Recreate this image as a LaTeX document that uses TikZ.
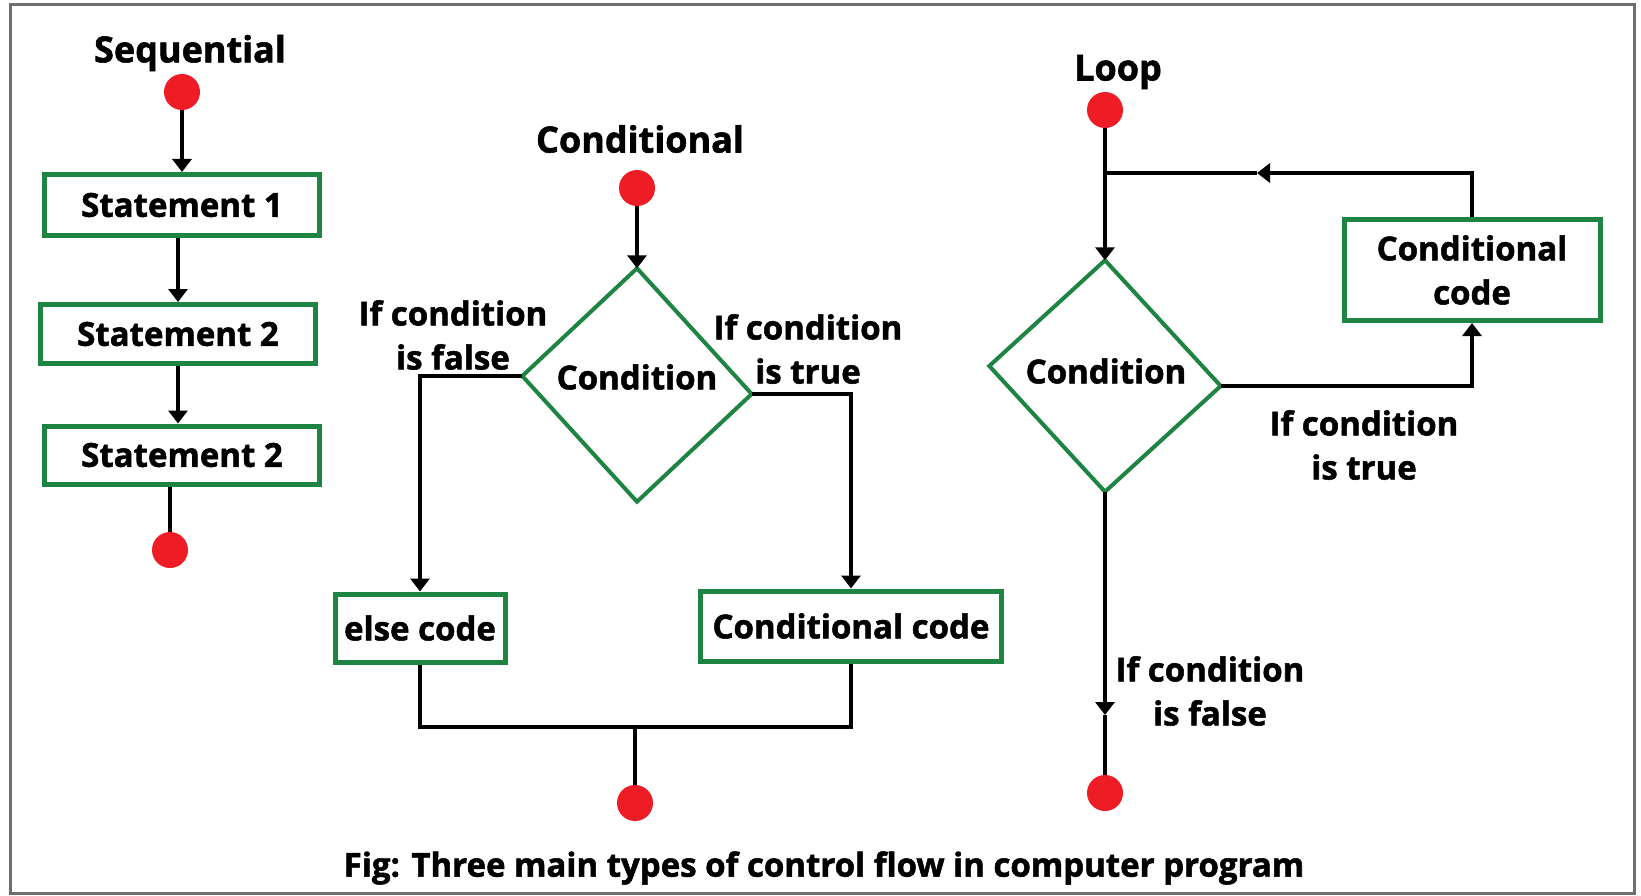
\documentclass[tikz,border=0pt]{standalone}
\usepackage{fontspec}
\setmainfont{Open Sans}[BoldFeatures={FakeBold=1.6}]
\usetikzlibrary{arrows.meta,shapes.geometric}
\definecolor{boxgreen}{RGB}{30,132,66}
\definecolor{dotred}{RGB}{238,28,36}
\definecolor{framegray}{RGB}{110,110,110}
\begin{document}
\begin{tikzpicture}[x=1pt,y=-1pt,
  every node/.style={font=\fontsize{33}{44}\selectfont\bfseries, align=center},
  box/.style={draw=boxgreen, line width=5pt, rectangle, inner sep=0pt},
  dia/.style={diamond, inner sep=2pt},
  diaedge/.style={draw=boxgreen, line width=4pt, line join=miter},
  dot/.style={circle, fill=dotred, minimum size=36pt, inner sep=0pt},
  lbl/.style={inner sep=0pt},
  head/.style={inner sep=0pt, font=\fontsize{36}{44}\selectfont\bfseries},
  line/.style={line width=4pt, black},
  arr/.style={line width=4pt, black, -{Triangle[width=19pt,length=13pt]}}
]
\useasboundingbox (0,0) rectangle (1641,896);
\fill[white] (0,0) rectangle (1641,896);
\draw[framegray, line width=3pt] (10,5) rectangle (1634,893);

% ---------- Sequential ----------
\node[head] (seqt) at (190,53) {Sequential};
\node[dot] (sd1) at (182,92) {};
\node[box, minimum width=275pt, minimum height=61pt] (s1) at (182,205) {Statement 1};
\node[box, minimum width=275pt, minimum height=59pt] (s2) at (178,334) {Statement 2};
\node[box, minimum width=275pt, minimum height=58pt] (s3) at (182,455) {Statement 2};
\node[dot] (sd2) at (170,550) {};
\draw[arr] (sd1) -- (s1.north);
\draw[arr] (s1.south -| s2.north) -- (s2.north);
\draw[arr] (s2.south) -- (s2.south |- s3.north);
\draw[line] (s3.south -| sd2) -- (sd2);

% ---------- Conditional ----------
\node[head] (condt) at (640,139) {Conditional};
\node[dot] (cd1) at (637,188) {};
\node[dia, minimum width=229pt, minimum height=233pt] (cd) at (637,385) {};
\node[lbl] (cdt) at (637,377) {Condition};
\coordinate (cdw) at ([yshift=9pt]cd.west);
\coordinate (cde) at ([yshift=-9pt]cd.east);
\draw[diaedge] (cd.north) -- (cde) -- (cd.south) -- (cdw) -- cycle;
\node[box, minimum width=170pt, minimum height=68pt] (ec) at (420,628) {else code};
\node[box, minimum width=301pt, minimum height=70pt] (cc) at (851,626) {Conditional code};
\node[dot] (cd2) at (635,803) {};
\coordinate (cm) at (635,727);
\node[lbl] (cfl) at (453,335) {If condition\\is false};
\node[lbl] (ctl) at (808,349) {If condition\\is true};
\draw[arr] (cd1) -- (cd.north);
\draw[arr] (cdw) -| (ec.north);
\draw[arr] (cde) -| (cc.north);
\draw[line] (ec.south) |- (cm) -| (cc.south);
\draw[line] (cm) -- (cd2);

% ---------- Loop ----------
\node[head] (loopt) at (1118,72) {Loop};
\node[dot] (ld1) at (1105,110) {};
\node[dia, minimum width=231pt, minimum height=231pt] (ld) at (1105,376) {};
\node[lbl] (ldt) at (1106,371) {Condition};
\coordinate (ldw) at ([yshift=10pt]ld.west);
\coordinate (lde) at ([yshift=-10pt]ld.east);
\draw[diaedge] (ld.north) -- (lde) -- (ld.south) -- (ldw) -- cycle;
\node[box, minimum width=256pt, minimum height=101pt] (lcc) at (1472,270) {Conditional\\code};
\node[dot] (ld2) at (1105,793) {};
\coordinate (jn) at (1105,173);
\coordinate (ma) at (1257,173);
\coordinate (mf) at (1105,715);
\node[lbl] (ltl) at (1364,445) {If condition\\is true};
\node[lbl] (lfl) at (1210,691) {If condition\\is false};
\draw[arr] (ld1) -- (ld.north);
\draw[arr] (lde) -| (lcc.south);
\draw[arr] (lcc.north) |- (ma);
\draw[line] (ma) -- (jn);
\draw[arr] (ld.south) -- (mf);
\draw[line] (mf) -- (ld2);

% ---------- Caption ----------
\node[lbl] (cap) at (824,868) {Fig: Three main types of control flow in computer program};
\end{tikzpicture}
\end{document}
